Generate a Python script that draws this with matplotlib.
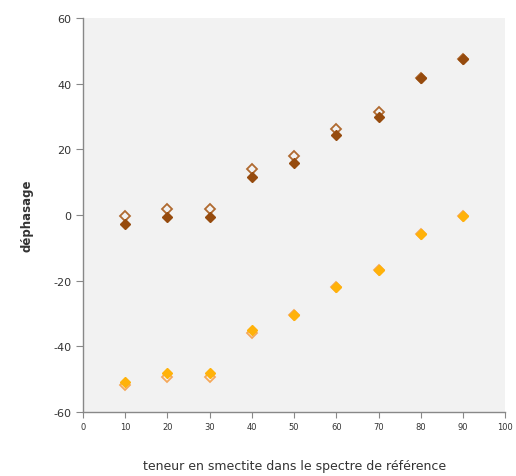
import matplotlib.pyplot as plt

plt.rcParams['axes.unicode_minus'] = False

teneur = [10, 20, 30, 40, 50, 60, 70, 80, 90]

brun_vide = [-0.4, 2.0, 1.8, 13.9, 17.9, 26.2, 31.5, 41.7, 47.5]
brun_plein = [-2.7, -0.5, -0.6, 11.7, 15.8, 24.4, 30.0, 41.7, 47.5]
orange_vide = [-51.8, -49.2, -49.4, -36.0, -30.5, -22.0, -16.7, -5.9, -0.2]
orange_plein = [-50.7, -48.0, -48.2, -35.1, -30.5, -22.0, -16.7, -5.9, -0.2]

fig = plt.figure(figsize=(5.16, 4.77), dpi=100)
ax = fig.add_axes([0.161, 0.134, 0.818, 0.826])
ax.set_facecolor('#f2f2f2')

ax.plot(teneur, brun_vide, 'D', ms=5.5, mfc='none', mec='#b06a30', mew=1.3, ls='none')
ax.plot(teneur, brun_plein, 'D', ms=5.5, color='#964b0e', ls='none')
ax.plot(teneur, orange_vide, 'D', ms=5.5, mfc='none', mec='#f5a85a', mew=1.3, ls='none')
ax.plot(teneur, orange_plein, 'D', ms=5.5, color='#ffb20a', ls='none')

ax.set_xlim(0, 100)
ax.set_ylim(-60, 60)
ax.set_xticks(range(0, 101, 10))
ax.set_yticks(range(-60, 61, 20))

for s in ['top', 'right']:
    ax.spines[s].set_visible(False)
for s in ['left', 'bottom']:
    ax.spines[s].set_color('#888888')
    ax.spines[s].set_linewidth(1)

ax.tick_params(axis='y', direction='out', length=5, color='#888888', labelsize=8, labelcolor='#333333')
ax.tick_params(axis='x', direction='out', length=4, color='#888888', labelsize=6, labelcolor='#333333')

ax.set_ylabel('déphasage', fontsize=8.5, fontweight='bold', color='#333333', labelpad=14)
ax.set_xlabel('teneur en smectite dans le spectre de référence', fontsize=9, color='#333333', labelpad=20)

fig.savefig('out.png', dpi=100)
